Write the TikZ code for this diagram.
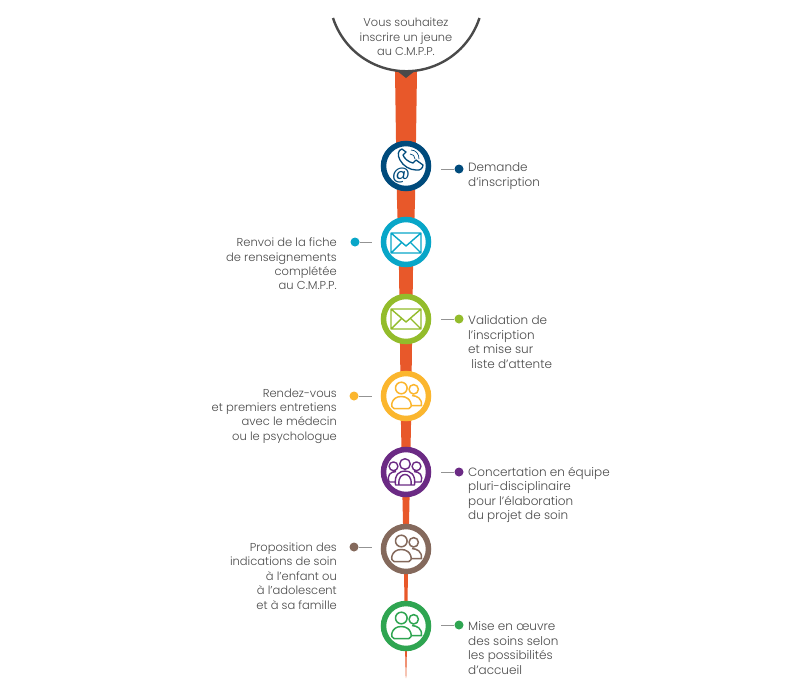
\documentclass[tikz,border=0pt]{standalone}
\usepackage{fontspec}
\setmainfont{Poppins Light}[BoldFont=Poppins]
\usepackage{xcolor}
\usetikzlibrary{shadows,positioning}
\definecolor{cmTrunk}{HTML}{E8582A}
\definecolor{cmText}{HTML}{4A4A4A}
\definecolor{cmNavy}{HTML}{004B7C}
\definecolor{cmCyan}{HTML}{08A6C8}
\definecolor{cmLime}{HTML}{93BC2B}
\definecolor{cmGold}{HTML}{FBB62E}
\definecolor{cmPlum}{HTML}{6B2A84}
\definecolor{cmBrown}{HTML}{84695C}
\definecolor{cmGreen}{HTML}{2FA551}

\begin{document}
\begin{tikzpicture}[
      x=1pt, y=-1pt,
      font=\fontsize{12}{14.4}\selectfont,
      stepring/.style={circle, draw=#1, line width=5.5pt, fill=white, minimum size=45pt,
                  inner sep=0pt, drop shadow={shadow xshift=2pt, shadow yshift=-2pt, opacity=.3}},
      stepdot/.style={circle, fill=#1, minimum size=9pt, inner sep=0pt},
      tick/.style={line width=.6pt, draw=gray!85},
      labr/.style={anchor=west, align=left, text=cmText, inner sep=0pt},
      labl/.style={anchor=east, align=right, text=cmText, inner sep=0pt,
                  font=\fontsize{11.5}{14.4}\selectfont},
      pics/mail/.style={code={
        \draw[#1, line width=1.4pt, line join=round] (-15,-10) rectangle (15,10)
          (-15,-10) -- (0,3) -- (15,-10) (-15,10) -- (-4,-1) (15,10) -- (4,-1);}},
      pics/duo/.style={code={
        \draw[#1, line width=1.5pt, line join=round]
          (-4.7,-8) circle[radius=5.8] (7.7,-6.7) circle[radius=4.7]
          (-12,12.5) .. controls (-16,12.5) and (-15.5,0.5) .. (-4.7,0.5)
                   .. controls (6,0.5) and (7,12.5) .. (3,12.5) -- cycle
          (6,-0.5) .. controls (11,0) and (16,2) .. (15.5,9.5) -- (5.5,9.5);}},
      pics/trio/.style={code={
        \draw[#1, line width=1.4pt, line join=round]
          (0,-9) circle[radius=5.3] (-11.5,-6.7) circle[radius=4.4] (11.5,-6.7) circle[radius=4.4]
          (-9.5,12) .. controls (-11,1) and (-5,-2) .. (0,-2)
                  .. controls (5,-2) and (11,1) .. (9.5,12) -- cycle
          (-6,12) .. controls (-7,4) and (-3,1.5) .. (0,1.5)
                  .. controls (3,1.5) and (7,4) .. (6,12)
          (-10,9) -- (-16,9) .. controls (-18,2) and (-15,-1) .. (-9,-1.5)
          (10,9) -- (16,9) .. controls (18,2) and (15,-1) .. (9,-1.5);}},
    ]

    \useasboundingbox[fill=white] (0,0) rectangle (793,697);

    % ---------- trunk ----------
    \fill[cmTrunk] (395,71) -- (417,71) -- (416,140) -- (415,200) -- (413,270) -- (412,345)
      -- (411,425) -- (409.5,500) -- (408,570) -- (406.7,660) -- (406.2,678) -- (405.8,678)
      -- (405.3,660) -- (404,570) -- (402.5,500) -- (401,425) -- (400,345) -- (399,270)
      -- (397,200) -- (396,140) -- cycle;

    % ---------- top bubble ----------
    \node[align=center, text=cmText, inner sep=0pt, font=\fontsize{11.4}{14.4}\selectfont] (bubble) at (406,37)
      {Vous souhaitez\\inscrire un jeune\\au C.M.P.P.};
    \draw[cmText, line width=2.4pt] (333,18) arc[start angle=162, end angle=18, radius=77];
    \fill[cmText] (396,70) -- (416,70) -- (406,78) -- cycle;

    % ---------- steps ----------
    \node[stepring=cmNavy]  (s1) at (406,166) {};
    \node[stepring=cmCyan]  (s2) at (406,242) {};
    \node[stepring=cmLime]  (s3) at (406,319) {};
    \node[stepring=cmGold]  (s4) at (406,396) {};
    \node[stepring=cmPlum]  (s5) at (406,472) {};
    \node[stepring=cmBrown] (s6) at (406,549) {};
    \node[stepring=cmGreen] (s7) at (406,626) {};

    % ---------- icons ----------
    \draw[cmNavy, line width=1.3pt, line join=round]
      (402,149) .. controls (398,150) and (397,155) .. (400,160)
      .. controls (403,166) and (410,170) .. (416,170)
      .. controls (420,171) and (423,168) .. (423,165) -- (416,160) -- (413,163)
      .. controls (408,162) and (404,158) .. (403,155) -- (406,152) -- cycle;
    \draw[cmNavy, line width=.7pt]
      (410,154) .. controls (413,154) and (415,156) .. (415,159)
      (411,150) .. controls (416,150) and (419,154) .. (419,159);
    \node[text=cmNavy, font=\fontsize{18}{18}\bfseries, inner sep=0pt] (at1) at (401,176) {@};
    \pic at (406,243) {mail=cmCyan};
    \pic at (406,319) {mail=cmLime};
    \pic at (406,396) {duo=cmGold};
    \pic at (405,473) {trio=cmPlum};
    \pic at (406,549) {duo=cmBrown};
    \pic at (406,626) {duo=cmGreen};

    % ---------- leaders ----------
    \node[stepdot=cmNavy]  (d1) at (459,169) {};
    \node[stepdot=cmCyan]  (d2) at (355,242) {};
    \node[stepdot=cmLime]  (d3) at (459,319) {};
    \node[stepdot=cmGold]  (d4) at (354,396) {};
    \node[stepdot=cmPlum]  (d5) at (459,472) {};
    \node[stepdot=cmBrown] (d6) at (354,547) {};
    \node[stepdot=cmGreen] (d7) at (459,625) {};
    \coordinate (t1) at (441,169);
    \coordinate (t2) at (372,242);
    \coordinate (t3) at (441,319);
    \coordinate (t4) at (372,396);
    \coordinate (t5) at (441,472);
    \coordinate (t6) at (372,547);
    \coordinate (t7) at (441,625);
    \foreach \i in {1,...,7} \draw[tick] (d\i) -- (t\i);

    % ---------- labels ----------
    \node[labr] (l1) at (468,176) {Demande\\d'inscription};
    \node[labl] (l2) at (337,264) {Renvoi de la fiche\\de renseignements\\complétée\\au C.M.P.P.};
    \node[labr] (l3) at (468,342) {Validation de\\l'inscription\\et mise sur\\\ liste d'attente};
    \node[labl] (l4) at (337,416) {Rendez-vous\\et premiers entretiens\\avec le médecin\\ou le psychologue};
    \node[labr] (l5) at (468,495) {Concertation en équipe\\pluri-disciplinaire\\pour l'élaboration\\du projet de soin};
    \node[labl] (l6) at (337,576) {Proposition des\\indications de soin\\à l'enfant ou\\à l'adolescent\\et à sa famille};
    \node[labr] (l7) at (468,648) {Mise en œuvre\\des soins selon\\les possibilités\\d'accueil};

  \end{tikzpicture}
\end{document}
